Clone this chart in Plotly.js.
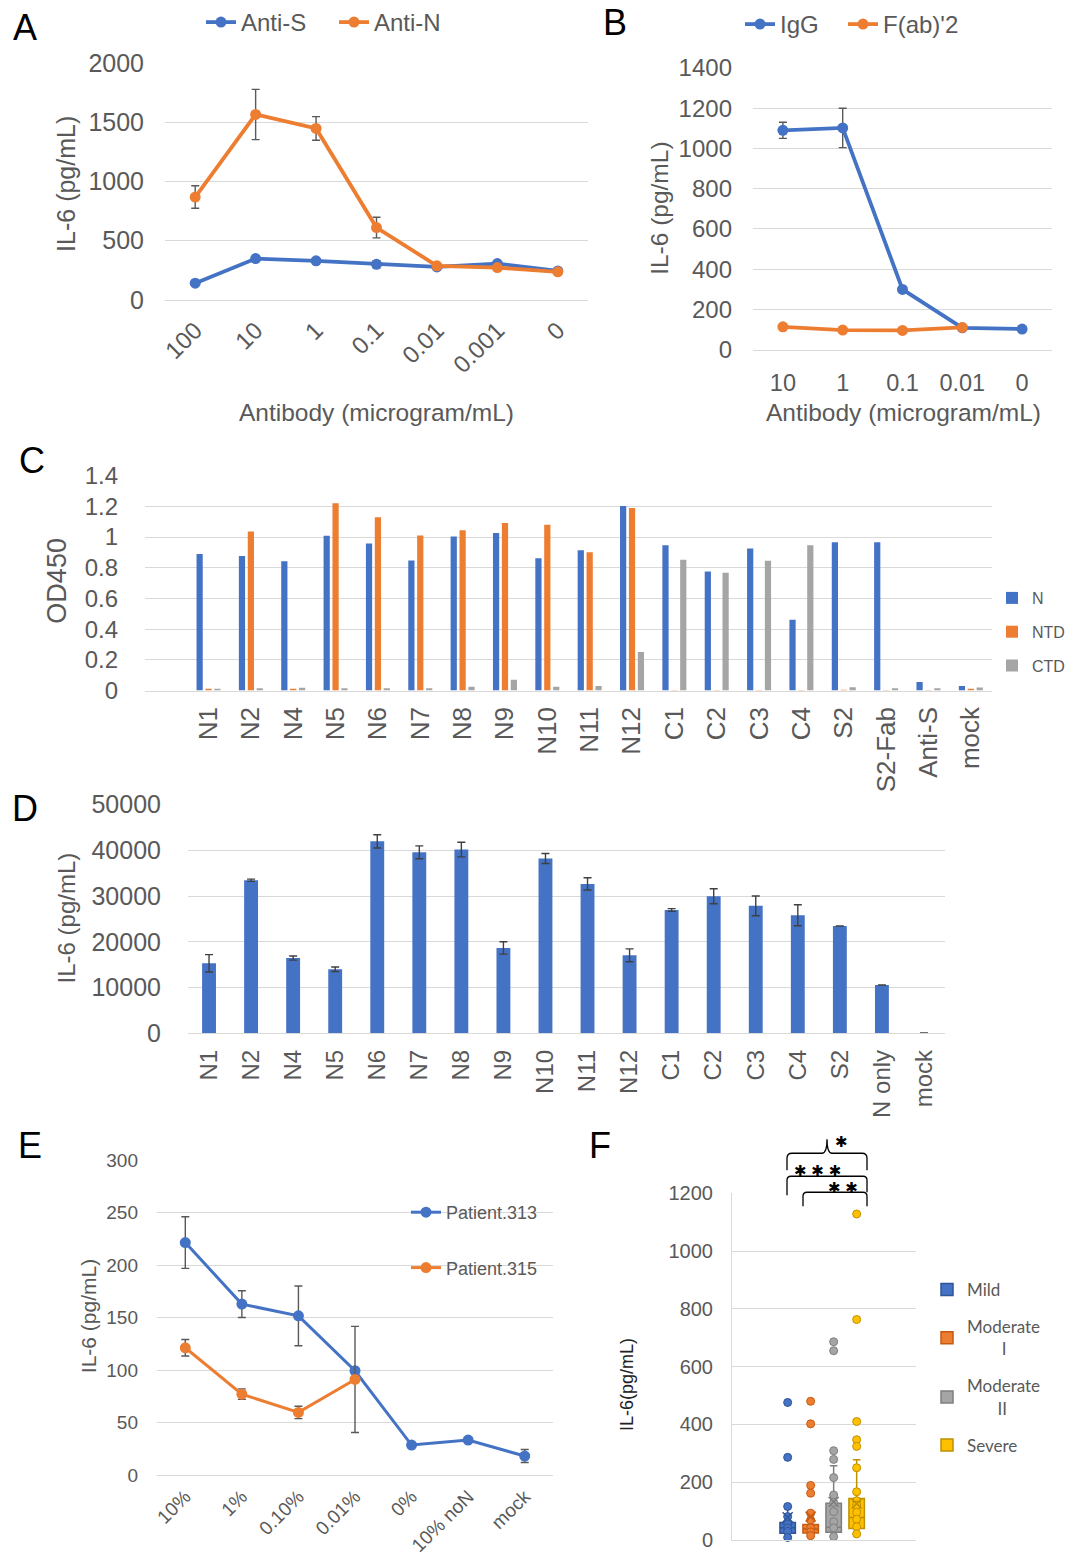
<!DOCTYPE html>
<html><head><meta charset="utf-8">
<script src="https://cdn.plot.ly/plotly-3.0.1.min.js"></script>
<style>html,body{margin:0;padding:0;background:#fff;} #chart{width:1088px;height:1557px;}</style>
</head><body><div id="chart"></div>
<script>
// ---------- Panel A ----------
const concA = ['100', '10', '1', '0.1', '0.01', '0.001', '0'];
const antiS = [140, 348, 329, 300, 278, 306, 244];
const antiSErr = [10, 15, 15, 28, 15, 12, 10];
const antiN = [868, 1565, 1447, 610, 287, 272, 236];
const antiNErr = [95, 212, 100, 87, 15, 10, 10];

// ---------- Panel B ----------
const concB = ['10', '1', '0.1', '0.01', '0'];
const igg = [1090, 1102, 300, 109, 103];
const iggErr = [40, 98, 8, 5, 5];
const fab = [114, 98, 96, 111, null];
const fabErr = [5, 4, 4, 5, 0];

// ---------- Panel C ----------
const cCats = ['N1','N2','N4','N5','N6','N7','N8','N9','N10','N11','N12','C1','C2','C3','C4','S2','S2-Fab','Anti-S','mock'];
const odN   = [0.890,0.877,0.842,1.009,0.958,0.848,1.004,1.026,0.862,0.914,1.202,0.947,0.776,0.925,0.462,0.967,0.967,0.055,0.029];
const odNTD = [0.011,1.037,0.011,1.220,1.130,1.011,1.044,1.092,1.081,0.901,1.189,0.004,0.004,0.003,0.003,0.005,0.003,0.004,0.011];
const odCTD = [0.011,0.015,0.018,0.015,0.015,0.015,0.024,0.070,0.024,0.029,0.251,0.853,0.767,0.846,0.947,0.022,0.015,0.015,0.020];

// ---------- Panel D ----------
const dCats = ['N1','N2','N4','N5','N6','N7','N8','N9','N10','N11','N12','C1','C2','C3','C4','S2','N only','mock'];
const il6D    = [15300,33450,16450,14000,41950,39550,40150,18650,38200,32650,17050,26950,29950,27850,25800,23450,10550,80];
const il6DErr = [1900,250,450,500,1450,1400,1600,1350,1100,1350,1400,300,1650,2150,2300,0,0,0];

// ---------- Panel E ----------
const eCats = ['10%', '1%', '0.10%', '0.01%', '0%', '10% noN', 'mock'];
const p313 = [221.6, 162.9, 151.7, 99.4, 28.6, 33.3, 18.1];
const p313Err = [24.6, 12.7, 28.4, 0, 0, 0, 6.2];
const p315 = [121.3, 77.1, 59.7, 91.1, null, null, null];
const p315Err = [7.9, 5.0, 5.9, 50.6, 0, 0, 0];

// ---------- Panel F ----------
const fGroups = ['Mild', 'Moderate I', 'Moderate II', 'Severe'];
const fLegendNames = ['Mild', 'Moderate<br>\u00a0\u00a0\u00a0\u00a0\u00a0\u00a0\u00a0\u00a0I', 'Moderate<br>\u00a0\u00a0\u00a0\u00a0\u00a0\u00a0\u00a0II', 'Severe'];
const fQ1 = [23, 24, 27, 40];
const fMedian = [42, 38, 44, 78];
const fQ3 = [61, 54, 127, 144];
const fLow = [9, 15, 12, 21];
const fHigh = [116, 93, 257, 278];
const fMean = [79, 81, 132, 126];
const mildPts = [476, 286, 116, 81, 55, 42, 30, 9];
const modIPts = [480, 402, 189, 162, 93, 69, 42, 28, 15];
const modIIPts = [686, 655, 309, 279, 216, 156, 130, 98, 63, 42, 12];
const severePts = [1128, 763, 410, 347, 324, 250, 167, 136, 121, 96, 72, 46, 21];
const fPoints = [mildPts, modIPts, modIIPts, severePts];

// ---------- helpers / styles ----------
const W = 1088, H = 1557;
const X = p => p / W;
const Y = p => 1 - p / H;
const FONT = 'Liberation Sans, Arial, sans-serif';
const TXT = '#595959';
const GRID = '#d9d9d9';
const BLUE = '#4472C4', ORANGE = '#ED7D31', LGRAY = '#A5A5A5', GOLD = '#FFC000';
const fFill = [BLUE, ORANGE, LGRAY, GOLD];
const fDark = ['#2F5597', '#C55A11', '#7F7F7F', '#BF9000'];
const ERR = '#595959';

function lineTrace(name, x, y, err, color, xa, ya, legend, extra) {
  return Object.assign({
    type: 'scatter', mode: 'lines+markers', name, x, y, xaxis: xa, yaxis: ya, legend,
    line: {color, width: 3.8}, marker: {color, size: 11},
    error_y: {type: 'data', array: err, visible: true, color: ERR, thickness: 1.4, width: 4},
    cliponaxis: false
  }, extra || {});
}

const traces = [];
// A
traces.push(lineTrace('Anti-S', concA, antiS, antiSErr, BLUE, 'x', 'y', 'legend'));
traces.push(lineTrace('Anti-N', concA, antiN, antiNErr, ORANGE, 'x', 'y', 'legend'));
// B
traces.push(lineTrace('IgG', concB, igg, iggErr, BLUE, 'x2', 'y2', 'legend2'));
traces.push(lineTrace("F(ab)'2", concB, fab, fabErr, ORANGE, 'x2', 'y2', 'legend6'));
// C
[['N', odN, BLUE], ['NTD', odNTD, ORANGE], ['CTD', odCTD, LGRAY]].forEach(([n, v, c]) => {
  traces.push({type: 'bar', name: n, x: cCats, y: v, xaxis: 'x3', yaxis: 'y3', legend: 'legend3',
    legendgroup: 'c' + n, marker: {color: c}});
});
// D
traces.push({type: 'bar', name: 'IL-6', x: dCats, y: il6D, xaxis: 'x4', yaxis: 'y4', showlegend: false,
  width: 0.33, marker: {color: BLUE},
  error_y: {type: 'data', array: il6DErr, visible: true, color: '#404040', thickness: 1.4, width: 4}});
// E
traces.push(lineTrace('Patient.313', eCats, p313, p313Err, BLUE, 'x5', 'y5', 'legend4', {legendgroup: 'e1', line: {color: BLUE, width: 3}, marker: {color: BLUE, size: 11}}));
traces.push(lineTrace('Patient.315', eCats, p315, p315Err, ORANGE, 'x5', 'y5', 'legend4', {legendgroup: 'e2', line: {color: ORANGE, width: 3}, marker: {color: ORANGE, size: 11}}));
// F boxes
fGroups.forEach((g, i) => {
  traces.push({type: 'box', name: fLegendNames[i], x: [g], q1: [fQ1[i]], median: [fMedian[i]], q3: [fQ3[i]],
    lowerfence: [fLow[i]], upperfence: [fHigh[i]], boxpoints: false, whiskerwidth: 0.5,
    fillcolor: fFill[i], line: {color: fDark[i], width: 1.5},
    xaxis: 'x6', yaxis: 'y6', legend: 'legend5', legendgroup: 'f' + i});
});
fGroups.forEach((g, i) => {
  traces.push({type: 'scatter', mode: 'markers', x: fPoints[i].map(() => g), y: fPoints[i],
    xaxis: 'x6', yaxis: 'y6', showlegend: false, cliponaxis: false,
    marker: {size: 8, color: fFill[i], line: {color: fDark[i], width: 1}}});
});
traces.push({type: 'scatter', mode: 'markers', x: fGroups, y: fMean, xaxis: 'x6', yaxis: 'y6', showlegend: false,
  marker: {symbol: 'x-thin-open', size: 10, color: fDark, line: {color: fDark, width: 1.5}}});

function xAxis(l, r, anchor, extra) {
  return Object.assign({domain: [X(l), X(r)], anchor, type: 'category', showgrid: false, zeroline: false,
    showline: true, linecolor: GRID, linewidth: 1, ticks: '', fixedrange: true,
    tickfont: {family: FONT, size: 24, color: TXT}}, extra);
}
function yAxis(bottom, top, anchor, range, dtick, extra) {
  return Object.assign({domain: [Y(bottom), Y(top)], anchor, range, dtick, tick0: 0, showgrid: true,
    gridcolor: GRID, gridwidth: 1, zeroline: false, showline: false, ticks: '', fixedrange: true,
    tickfont: {family: FONT, size: 24, color: TXT}}, extra);
}

function ann(text, x, y, size, color, extra) {
  return Object.assign({text, x: X(x), y: Y(y), xref: 'paper', yref: 'paper', showarrow: false,
    xanchor: 'center', yanchor: 'middle', font: {family: FONT, size, color}}, extra || {});
}
function pathPx(s) {
  return s.replace(/(-?\d+\.?\d*),(-?\d+\.?\d*)/g, (m, a, b) => X(+a).toFixed(5) + ',' + Y(+b).toFixed(5));
}
const bracket = p => ({type: 'path', xref: 'paper', yref: 'paper', path: pathPx(p), line: {color: '#000', width: 1.3}});

const legBase = (x, y, size, extra) => Object.assign({x: X(x), y: Y(y), xanchor: 'left', yanchor: 'top',
  bgcolor: 'rgba(0,0,0,0)', borderwidth: 0, font: {family: FONT, size, color: TXT}}, extra || {});

const STAR = '\u2731';
const SFONT = 'DejaVu Sans, sans-serif';
const starAnn = (t, x, y) => ann(t, x, y, 15, '#000', {font: {family: SFONT, size: 15, color: '#000'}});

const layout = {
  width: W, height: H, margin: {l: 0, r: 0, t: 0, b: 0},
  paper_bgcolor: '#fff', plot_bgcolor: 'rgba(0,0,0,0)',
  barmode: 'group', bargap: 0.37, bargroupgap: 0.3, boxgap: 0.04,
  font: {family: FONT, color: TXT},
  xaxis: xAxis(165, 588, 'y', {range: [-0.5, 6.5], tickangle: -45, ticklabelstandoff: 6}),
  yaxis: yAxis(299, 62, 'x', [0, 2000], 500, {ticklabelstandoff: 20, tickfont: {family: FONT, size: 25, color: TXT}}),
  xaxis2: xAxis(753, 1052, 'y2', {range: [-0.5, 4.5], tickangle: 0, ticklabelstandoff: 12,
    tickfont: {family: FONT, size: 23.5, color: TXT}}),
  yaxis2: yAxis(349, 67, 'x2', [0, 1400], 200, {ticklabelstandoff: 20}),
  xaxis3: xAxis(145, 992, 'y3', {range: [-1.5, 18.5], tickangle: -90, ticklabelstandoff: 5,
    tickfont: {family: FONT, size: 26, color: TXT}}),
  yaxis3: yAxis(690, 475, 'x3', [0, 1.4], 0.2, {ticklabelstandoff: 26, tickfont: {family: FONT, size: 24, color: TXT}}),
  xaxis4: xAxis(188, 945, 'y4', {range: [-0.5, 17.5], tickangle: -90, ticklabelstandoff: 6,
    tickfont: {family: FONT, size: 24, color: TXT}}),
  yaxis4: yAxis(1033, 804, 'x4', [0, 50000], 10000, {tickformat: 'd', ticklabelstandoff: 26,
    tickfont: {family: FONT, size: 25, color: TXT}}),
  xaxis5: xAxis(157, 553, 'y5', {range: [-0.5, 6.5], tickangle: -45, ticklabelstandoff: 2,
    tickfont: {family: FONT, size: 19, color: TXT}}),
  yaxis5: yAxis(1475, 1160, 'x5', [0, 300], 50, {ticklabelstandoff: 18, tickfont: {family: FONT, size: 19, color: TXT}}),
  xaxis6: xAxis(732, 916, 'y6', {categoryorder: 'array', categoryarray: fGroups, range: [-2.42, 5.58],
    showticklabels: false}),
  yaxis6: yAxis(1540, 1193, 'x6', [0, 1200], 200, {showline: true, linecolor: GRID, ticklabelstandoff: 14,
    tickfont: {family: FONT, size: 20, color: TXT}}),
  legend: legBase(201, -1, 24, {orientation: 'h', entrywidth: 88}),
  legend2: legBase(740, 2, 24, {orientation: 'h'}),
  legend6: legBase(843, 2, 24, {orientation: 'h'}),
  legend3: legBase(992, 581, 16, {traceorder: 'grouped', tracegroupgap: 10}),
  legend4: legBase(406, 1194, 18, {traceorder: 'grouped', tracegroupgap: 29}),
  legend5: legBase(927, 1272, 17, {traceorder: 'grouped', tracegroupgap: 12,
    font: {family: 'Lato, Noto Sans, sans-serif', size: 17, color: TXT}}),
  annotations: [
    ann('A', 25, 27, 36, '#000'), ann('B', 615, 22, 36, '#000'), ann('C', 32, 460, 36, '#000'),
    ann('D', 25, 808, 36, '#000'), ann('E', 30, 1145, 36, '#000'), ann('F', 600, 1145, 36, '#000'),
    ann('IL-6 (pg/mL)', 66, 183, 25, TXT, {textangle: -90}),
    ann('Antibody (microgram/mL)', 376, 412, 24.5, TXT),
    ann('IL-6 (pg/mL)', 660, 208, 24.5, TXT, {textangle: -90}),
    ann('Antibody (microgram/mL)', 903, 412, 24.5, TXT),
    ann('OD450', 57, 580, 27, TXT, {textangle: -90}),
    ann('IL-6 (pg/mL)', 66, 918, 24, TXT, {textangle: -90}),
    ann('IL-6 (pg/mL)', 88, 1316, 21, TXT, {textangle: -90}),
    ann('IL-6(pg/mL)', 627, 1385, 18, '#222', {textangle: -90}),
    starAnn(STAR, 841, 1142),
    starAnn(STAR + ' ' + STAR + ' ' + STAR, 817, 1171),
    starAnn(STAR + ' ' + STAR, 843, 1188)
  ],
  shapes: [
    bracket('M787,1170 L787,1158 Q787,1153 792,1153 L822,1153 Q827,1153 827,1139 Q827,1153 832,1153 L862,1153 Q867,1153 867,1158 L867,1170'),
    bracket('M787,1195 L787,1180 Q787,1176 791,1176 L863,1176 Q867,1176 867,1180 L867,1192'),
    bracket('M803,1206 L803,1196 Q803,1192 807,1192 L863,1192 Q867,1192 867,1196 L867,1206')
  ]
};

Plotly.newPlot('chart', traces, layout, {staticPlot: true, displayModeBar: false});
</script>
</body></html>
